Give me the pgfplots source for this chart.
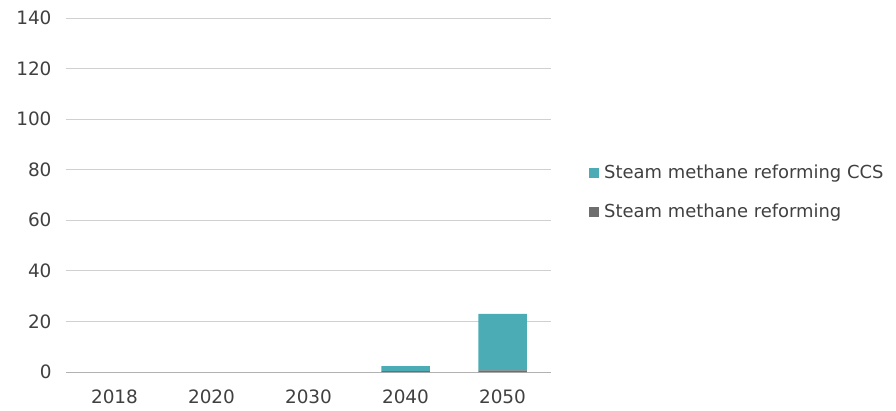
\documentclass[border=0pt]{standalone}
\usepackage{fontspec}
\setmainfont{DejaVu Sans}
\usepackage{pgfplots}
\pgfplotsset{compat=1.18}
\definecolor{teal}{HTML}{4BACB5}
\definecolor{smr}{HTML}{6E6E6E}
\definecolor{gridc}{HTML}{D0D0D0}
\definecolor{txt}{HTML}{404040}
\begin{document}
\begin{tikzpicture}
\begin{axis}[
  at={(0,0)}, anchor=south west,
  scale only axis, width=485bp, height=354bp,
  ybar stacked, bar width=0.5,
  xmin=-0.5, xmax=4.5, ymin=0, ymax=140,
  xtick={0,1,2,3,4}, xticklabels={2018,2020,2030,2040,2050},
  ytick={0,20,...,140},
  ymajorgrids, grid style={gridc, line width=0.9bp},
  axis x line*=bottom, axis y line*=left,
  y axis line style={draw=none},
  x axis line style={gridc!85!black, line width=0.9bp, -},
  major tick length=0pt,
  tick label style={font=\fontsize{18.5}{21}\selectfont, text=txt},
  yticklabel style={xshift=-11bp},
  xticklabel style={yshift=-14bp},
  /pgf/number format/assume math mode=true,
  legend style={draw=none, fill=none, at={(523bp,209bp)}, anchor=north west,
    font=\fontsize{18}{20}\selectfont, text=txt, row sep=20bp, /tikz/column sep=3bp,
    legend cell align=left, inner sep=0pt, nodes={inner sep=2bp}},
  reverse legend,
  legend image code/.code={\fill[#1] (0bp,-5bp) rectangle (10bp,5bp);},
]
\addplot+[fill=smr, draw=none] coordinates {(0,0) (1,0) (2,0) (3,0.3) (4,0.6)};
\addlegendentry{Steam methane reforming}
\addplot+[fill=teal, draw=none] coordinates {(0,0) (1,0) (2,0) (3,2.0) (4,22.4)};
\addlegendentry{Steam methane reforming CCS}
\end{axis}
\path (-66bp,-39bp) rectangle (830bp,372bp);
\end{tikzpicture}
\end{document}
